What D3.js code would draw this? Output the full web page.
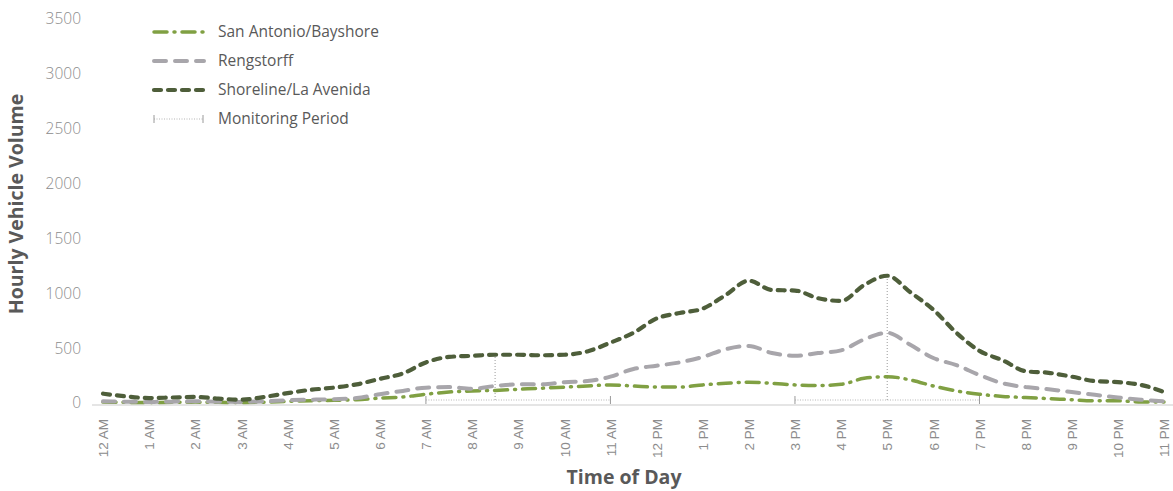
<!DOCTYPE html>
<html><head><meta charset="utf-8">
<script src="https://cdn.jsdelivr.net/npm/d3@7"></script>
<style>
body{margin:0;background:#fff;}
svg{display:block;font-family:"Open Sans","Noto Sans",sans-serif;}
</style></head>
<body><svg id="c" width="1173" height="491"></svg>
<script>
const hours = [0,0.5,1,1.5,2,2.5,3,3.5,4,4.5,5,5.5,6,6.5,7,7.5,8,8.5,9,9.5,10,10.5,11,11.5,12,12.5,13,13.5,14,14.5,15,15.5,16,16.5,17,17.5,18,18.5,19,19.5,20,20.5,21,21.5,22,22.5,23];
const tickLabels = ["12 AM","1 AM","2 AM","3 AM","4 AM","5 AM","6 AM","7 AM","8 AM","9 AM","10 AM","11 AM","12 PM","1 PM","2 PM","3 PM","4 PM","5 PM","6 PM","7 PM","8 PM","9 PM","10 PM","11 PM"];
const yTicks = [0,500,1000,1500,2000,2500,3000,3500];
const sanAntonio = [8,6,5,6,8,6,5,8,15,20,25,30,45,55,80,100,110,115,125,135,145,155,165,155,145,145,165,180,190,180,165,160,170,225,240,210,155,110,80,60,50,40,30,20,20,10,10];
const rengstorff = [15,12,10,12,15,12,10,15,25,30,35,45,80,110,140,145,130,155,170,170,190,200,240,310,340,370,420,490,520,455,430,455,480,580,640,530,410,345,255,180,145,125,100,75,50,30,15];
const shoreline = [85,60,45,50,55,40,30,55,90,120,140,170,220,270,370,420,430,440,440,435,440,470,550,640,770,820,860,985,1115,1030,1025,955,930,1075,1160,1010,850,640,475,390,290,275,240,200,190,165,100];
const seriesNames = ["San Antonio/Bayshore","Rengstorff","Shoreline/La Avenida"];
const monitoring = [{start:7,end:11,peak:8.5},{start:15,end:19,peak:17}];

const svg = d3.select("#c");
const x = d3.scaleLinear().domain([0,23]).range([103,1164]);
const y = d3.scaleLinear().domain([0,3500]).range([403,19]);

const styles = [
  {color:"#80a043", dash:"13 7 1 7", width:3.5},
  {color:"#a8a6ab", dash:"12 9", width:4},
  {color:"#4e5e3a", dash:"7 7", width:4.2}
];
const seriesData = [sanAntonio, rengstorff, shoreline];

// baseline
svg.append("line").attr("x1",92).attr("x2",1173).attr("y1",y(0)+2).attr("y2",y(0)+2)
  .attr("stroke","#dcdcdc").attr("stroke-width",1.5);

// y axis labels
const yAxis = d3.axisLeft(y).tickValues(yTicks).tickSize(0).tickPadding(0).tickFormat(d3.format("d"));
const yg = svg.append("g").attr("transform","translate(81,0)").call(yAxis);
yg.select(".domain").remove();
yg.selectAll("text").attr("font-size",15.5).attr("fill","#8c8c8c").attr("font-family","Open Sans").attr("font-weight",300);

// x axis labels
const xAxis = d3.axisBottom(x).tickValues(d3.range(tickLabels.length)).tickSize(0).tickFormat(i=>tickLabels[i]);
const xg = svg.append("g").attr("transform","translate(0,419)").call(xAxis);
xg.select(".domain").remove();
xg.selectAll("text").attr("transform","rotate(-90)").attr("text-anchor","end")
  .attr("x",0).attr("y",0).attr("dy","0.35em").attr("font-size",13.5).attr("fill","#8c8c8c").attr("font-weight",300);

// monitoring periods
const mp = svg.append("g");
monitoring.forEach(m=>{
  const yb = y(0)-3;
  mp.append("line").attr("x1",x(m.start)).attr("x2",x(m.end)).attr("y1",yb).attr("y2",yb)
    .attr("stroke","#b5b5b5").attr("stroke-width",1).attr("stroke-dasharray","1 1.5");
  [m.start,m.end].forEach(t=>{
    mp.append("line").attr("x1",x(t)).attr("x2",x(t)).attr("y1",yb-4).attr("y2",yb+4)
      .attr("stroke","#9a9a9a").attr("stroke-width",1);
  });
  const i = hours.indexOf(m.peak);
  mp.append("line").attr("x1",x(m.peak)).attr("x2",x(m.peak)).attr("y1",yb).attr("y2",y(shoreline[i]))
    .attr("stroke","#9a9a9a").attr("stroke-width",1).attr("stroke-dasharray","1 2");
});

// lines
const line = d3.line().x((d,i)=>x(hours[i])).y(d=>y(d)).curve(d3.curveMonotoneX);
seriesData.forEach((s,k)=>{
  svg.append("path").datum(s).attr("d",line).attr("fill","none")
    .attr("stroke",styles[k].color).attr("stroke-width",styles[k].width)
    .attr("stroke-dasharray",styles[k].dash).attr("stroke-linecap","round");
});

// legend
const lg = svg.append("g");
const legY = [32,61,90,119];
seriesNames.forEach((n,k)=>{
  lg.append("line").attr("x1",154).attr("x2",204).attr("y1",legY[k]).attr("y2",legY[k])
    .attr("stroke",styles[k].color).attr("stroke-width",styles[k].width)
    .attr("stroke-dasharray",styles[k].dash).attr("stroke-linecap","round");
  lg.append("text").attr("x",218).attr("y",legY[k]).attr("dy","0.35em").attr("font-size",15.5)
    .attr("fill","#595959").text(n);
});
lg.append("line").attr("x1",154).attr("x2",203).attr("y1",legY[3]).attr("y2",legY[3])
  .attr("stroke","#b5b5b5").attr("stroke-width",1).attr("stroke-dasharray","1 1.5");
[154,203].forEach(px=>lg.append("line").attr("x1",px).attr("x2",px).attr("y1",legY[3]-4).attr("y2",legY[3]+4)
  .attr("stroke","#9a9a9a").attr("stroke-width",1));
lg.append("text").attr("x",218).attr("y",legY[3]).attr("dy","0.35em").attr("font-size",15.5)
  .attr("fill","#595959").text("Monitoring Period");

// axis titles
svg.append("text").attr("transform","translate(23,204) rotate(-90)").attr("text-anchor","middle")
  .attr("font-size",19.5).attr("font-weight",700).attr("fill","#595959").text("Hourly Vehicle Volume");
svg.append("text").attr("x",624).attr("y",484).attr("text-anchor","middle")
  .attr("font-size",19.5).attr("font-weight",700).attr("fill","#595959").text("Time of Day");
</script></body></html>
